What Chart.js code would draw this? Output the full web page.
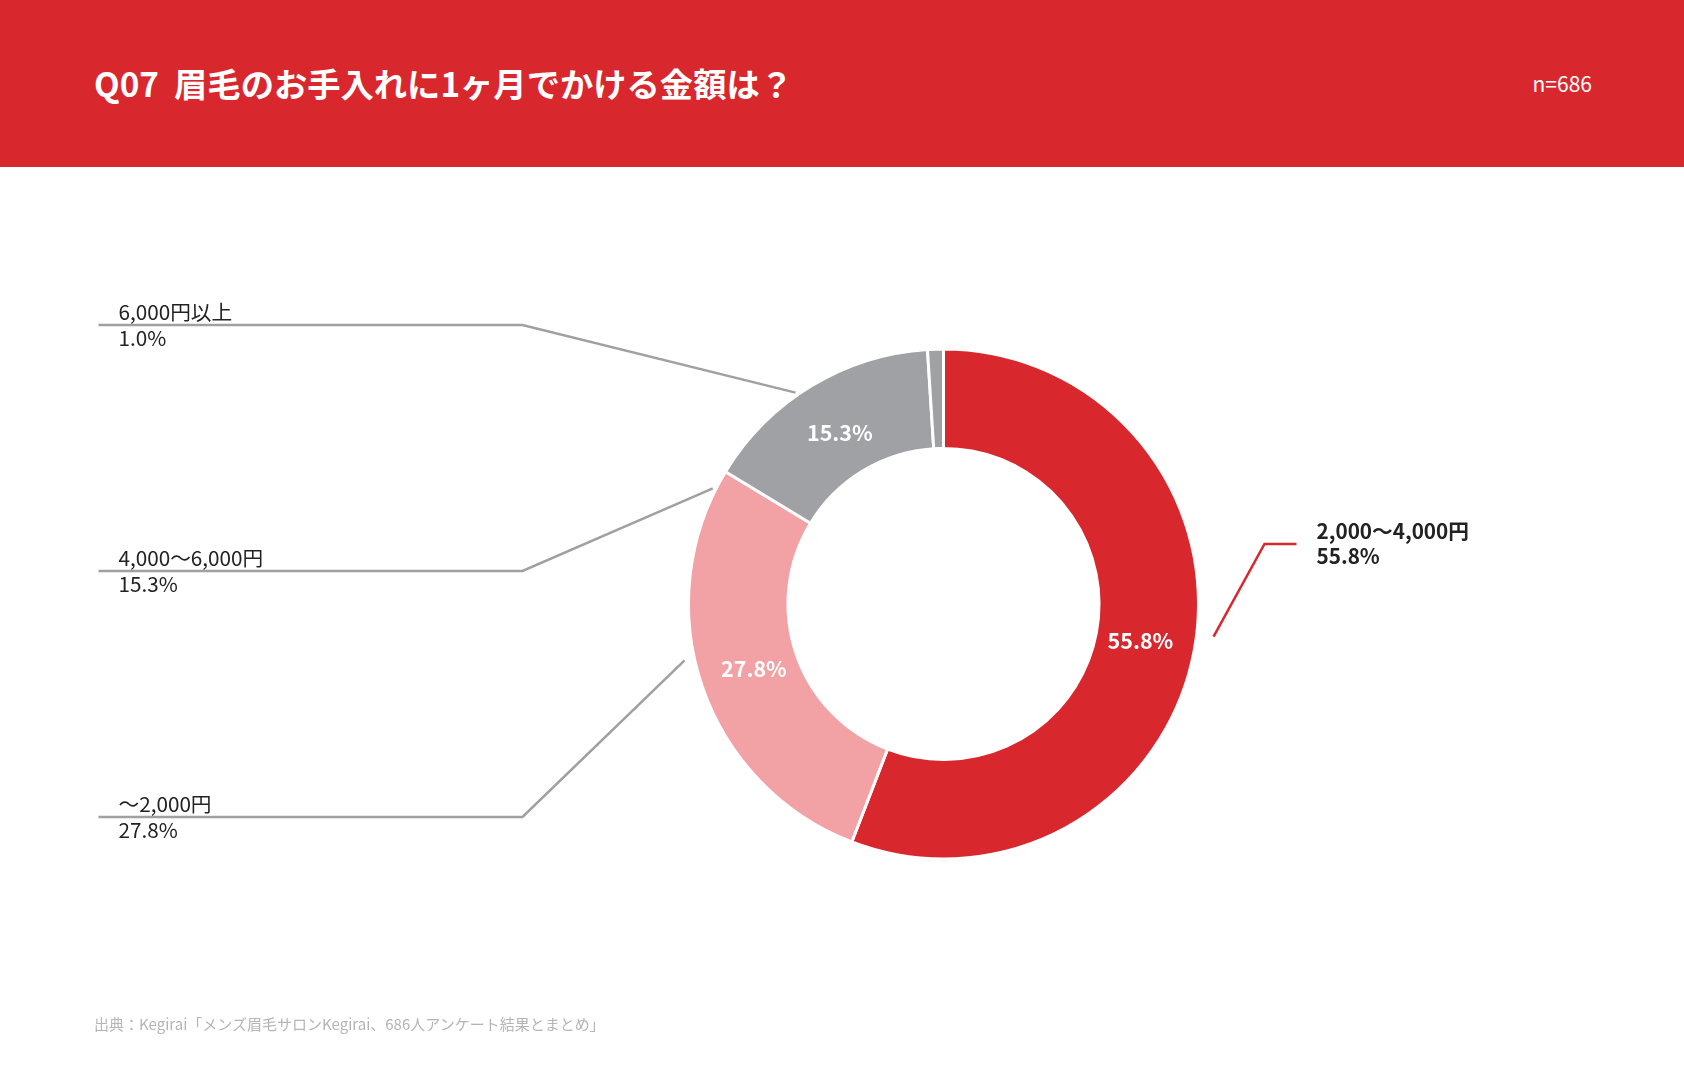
<!DOCTYPE html>
<html lang="ja">
<head>
<meta charset="utf-8">
<title>Q07 眉毛のお手入れに1ヶ月でかける金額は？</title>
<script src="https://cdn.jsdelivr.net/npm/chart.js@4.4.1/dist/chart.umd.min.js"></script>
<style>
    html, body { margin: 0; padding: 0; background: #fff; }
    body { width: 1684px; height: 1089px; position: relative; overflow: hidden;
           font-family: "Noto Sans CJK JP", "Noto Sans", sans-serif; }
    .header { position: absolute; left: 0; top: 0; width: 1684px; height: 167px; background: #D9272E; }
    .title { position: absolute; left: 94px; top: 61px; color: #fff; font-size: 33.3px; font-weight: 700;
             line-height: 44px; white-space: pre; }
    .count { position: absolute; right: 92px; top: 69px; color: #fff; font-size: 21px; line-height: 28px; }
    .chart-box { position: absolute; left: 0; top: 167px; width: 1684px; height: 922px; }
    .source { position: absolute; left: 94px; top: 1013px; color: #B5B5B5; font-size: 15px; line-height: 22px; }
</style>
</head>
<body>
<div class="header">
    <div class="title">Q07  眉毛のお手入れに1ヶ月でかける金額は？</div>
    <div class="count">n=686</div>
</div>
<div class="chart-box"><canvas id="donut"></canvas></div>
<div class="source">出典：Kegirai「メンズ眉毛サロンKegirai、686人アンケート結果とまとめ」</div>

<script>
const categories = ['2,000〜4,000円', '〜2,000円', '4,000〜6,000円', '6,000円以上'];
const shares = [55.8, 27.8, 15.3, 1.0];
const sliceColors = ['#D9272E', '#F2A1A5', '#A0A1A5', '#A0A1A5'];
const insideLabels = [true, true, true, false];

// where each callout sits, relative to the donut centre
const callouts = [
    { side: 'right', angle: 6.9,  gap: 17, elbowX: 321, lineY: -60, endX: 353, textX: 373, bold: true,  color: '#D9272E' },
    { side: 'left',  angle: 167.7, gap: 10, elbowX: -421, lineY: 213, endX: -845, textX: -825, bold: false, color: '#A0A0A0' },
    { side: 'left',  angle: 206.6, gap: 3,  elbowX: -421, lineY: -33, endX: -845, textX: -825, bold: false, color: '#A0A0A0' },
    { side: 'left',  angle: 235,   gap: 3,  elbowX: -421, lineY: -279, endX: -845, textX: -825, bold: false, color: '#A0A0A0' }
];

const FONT = '"Noto Sans CJK JP", "Noto Sans", sans-serif';

const labelPlugin = {
    id: 'labelPlugin',
    afterDatasetsDraw(chart) {
        const ctx = chart.ctx;
        const meta = chart.getDatasetMeta(0);
        const first = meta.data[0];
        const cx = first.x, cy = first.y, outer = first.outerRadius;

        ctx.save();
        // values inside the ring, slightly inside the mid radius
        ctx.fillStyle = '#fff';
        ctx.font = '700 21.5px ' + FONT;
        ctx.textAlign = 'center';
        ctx.textBaseline = 'middle';
        meta.data.forEach((arc, i) => {
            if (!insideLabels[i]) return;
            const mid = (arc.startAngle + arc.endAngle) / 2;
            const r = (arc.innerRadius + arc.outerRadius) / 2 - 5;
            ctx.fillText(shares[i].toFixed(1) + '%', arc.x + r * Math.cos(mid), arc.y + r * Math.sin(mid));
        });

        // callouts with leader lines
        callouts.forEach((c, i) => {
            const a = c.angle * Math.PI / 180;
            const r = outer + c.gap;
            ctx.strokeStyle = c.color;
            ctx.lineWidth = 2.5;
            ctx.beginPath();
            ctx.moveTo(cx + r * Math.cos(a), cy + r * Math.sin(a));
            ctx.lineTo(cx + c.elbowX, cy + c.lineY);
            ctx.lineTo(cx + c.endX, cy + c.lineY);
            ctx.stroke();

            ctx.fillStyle = '#222';
            ctx.font = (c.bold ? '700 ' : '400 ') + '20.7px ' + FONT;
            ctx.textAlign = 'left';
            ctx.textBaseline = 'middle';
            const tx = cx + c.textX;
            ctx.fillText(categories[i], tx, cy + c.lineY - 13);
            ctx.fillText(shares[i].toFixed(1) + '%', tx, cy + c.lineY + (c.side === 'right' ? 12 : 13));
        });
        ctx.restore();
    }
};

const ctx = document.getElementById('donut').getContext('2d');
const donutChart = new Chart(ctx, {
    type: 'doughnut',
    data: {
        labels: categories,
        datasets: [{
            data: shares,
            backgroundColor: sliceColors,
            borderColor: '#fff',
            borderWidth: 3,
            hoverOffset: 0
        }]
    },
    options: {
        responsive: true,
        maintainAspectRatio: false,
        animation: false,
        radius: 255,
        cutout: '61%',
        layout: { padding: { left: 203, bottom: 48 } },
        plugins: {
            legend: { display: false },
            tooltip: { enabled: false }
        }
    },
    plugins: [labelPlugin]
});
</script>
</body>
</html>
